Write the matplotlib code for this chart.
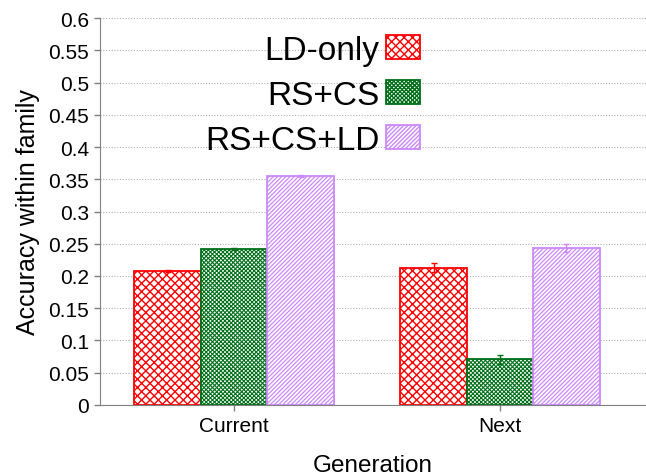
import numpy as np
import matplotlib
matplotlib.use('Agg')
import matplotlib.pyplot as plt

plt.rcParams['font.family'] = ['Liberation Sans', 'DejaVu Sans']
plt.rcParams['hatch.linewidth'] = 1.0

generations = ['Current', 'Next']
series = ['LD-only', 'RS+CS', 'RS+CS+LD']
ld_only = [0.208, 0.213]
ld_only_err = [0.002, 0.007]
rs_cs = [0.242, 0.071]
rs_cs_err = [0.002, 0.007]
rs_cs_ld = [0.355, 0.243]
rs_cs_ld_err = [0.001, 0.006]

colors = ['#ff0000', '#00701a', '#cc88ff']
hatches = ['xxxx', 'x' * 8, '/' * 8]
hatch_widths = [1.0, 0.8, 0.9]

fig = plt.figure(figsize=(6.46, 4.77), dpi=100)
ax = fig.add_axes([0.155, 0.149, 0.845, 0.811])

x = np.arange(len(generations))
w = 0.25
values = [ld_only, rs_cs, rs_cs_ld]
errs = [ld_only_err, rs_cs_err, rs_cs_ld_err]
for i in range(3):
    bars = ax.bar(x + (i - 1) * w, values[i], w, facecolor='white', edgecolor=colors[i],
                  hatch=hatches[i], linewidth=1.3, label=series[i], zorder=2)
    for b in bars:
        if hasattr(b, 'set_hatch_linewidth'):
            b.set_hatch_linewidth(hatch_widths[i])
    ax.errorbar(x + (i - 1) * w, values[i], yerr=errs[i], fmt='none', ecolor=colors[i],
                elinewidth=1, capsize=2.5, capthick=1, zorder=3)

ax.set_xlim(-0.504, 1.549)
ax.set_ylim(0, 0.6)
ax.set_yticks(np.arange(0, 0.601, 0.05))
ax.set_yticklabels(['0', '0.05', '0.1', '0.15', '0.2', '0.25', '0.3', '0.35', '0.4',
                    '0.45', '0.5', '0.55', '0.6'])
ax.set_xticks(x)
ax.set_xticklabels(generations)
ax.yaxis.grid(True, linestyle=(0, (1, 1.5)), color='#b0b0b0', linewidth=0.8, zorder=0)
ax.set_axisbelow(True)

for s in ['top', 'right']:
    ax.spines[s].set_visible(False)
for s in ['left', 'bottom']:
    ax.spines[s].set_color('#808080')
ax.tick_params(axis='both', colors='#808080', labelcolor='black', labelsize=15,
               direction='out', length=4, width=1, pad=4)

ax.set_xlabel('Generation', fontsize=17.5, labelpad=14)
ax.set_ylabel('Accuracy within family', fontsize=18, labelpad=6)

ax.legend(loc='upper right', bbox_to_anchor=(0.586, 0.957), frameon=False, fontsize=24,
          markerfirst=False, handlelength=1.02, handleheight=0.7, labelspacing=0.42,
          handletextpad=0.2, borderpad=0, borderaxespad=0)

fig.savefig('out.png', dpi=100)
